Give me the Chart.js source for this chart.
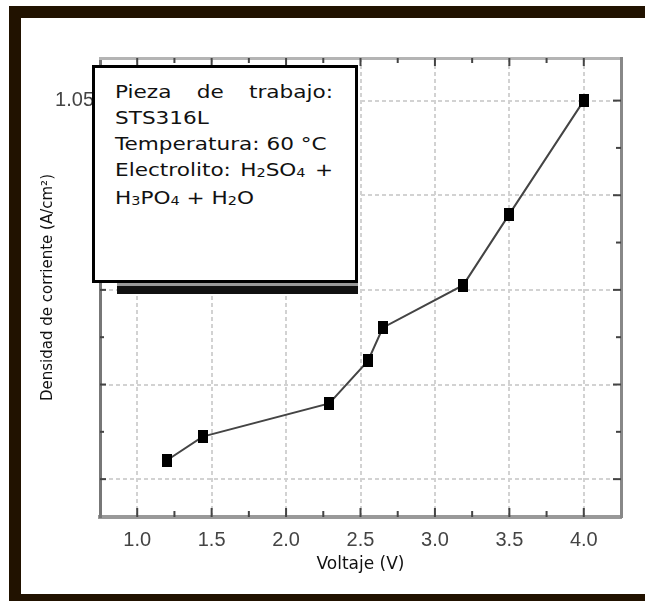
<!DOCTYPE html>
<html>
<head>
<meta charset="utf-8">
<script src="https://cdn.jsdelivr.net/npm/chart.js@4.4.1/dist/chart.umd.min.js"></script>
<style>
  html, body { margin: 0; padding: 0; background: #fff; }
  #wrap { position: relative; width: 645px; height: 601px; overflow: hidden; }
  #chart { position: absolute; left: 0; top: 0; }
  #frame {
    position: absolute; left: 9px; top: 6px; width: 636px; height: 595px;
    box-sizing: border-box; pointer-events: none;
    border-top: 12px solid #211200; border-left: 12px solid #211200; border-bottom: 7px solid #211200;
  }
  #noteShadow {
    position: absolute; left: 117px; top: 283px; width: 241px; height: 11px;
    background: linear-gradient(#999 0 3px, #111 3px);
  }
  #note {
    position: absolute; left: 92px; top: 65px; width: 266px; height: 218px;
    box-sizing: border-box; border: 3px solid #000; background: #fff;
    font-family: 'DejaVu Sans', Verdana, sans-serif; font-size: 18px; line-height: 26px; color: #111;
  }
  #noteText {
    position: absolute; left: 20px; top: 11px; width: 181.7px;
    transform: scaleX(1.2); transform-origin: 0 0; white-space: nowrap;
  }
  .j { text-align: justify; text-align-last: justify; white-space: normal; }
  .s { font-size: 12px; position: relative; top: 1px; }
</style>
</head>
<body>
<div id="wrap">
  <canvas id="chart" width="645" height="601"></canvas>
  <div id="noteShadow"></div>
  <div id="note">
    <div id="noteText">
      <div class="j">Pieza de trabajo:</div>
      <div>STS316L</div>
      <div>Temperatura: 60 °C</div>
      <div class="j">Electrolito: H<span class="s">2</span>SO<span class="s">4</span> +</div>
      <div>H<span class="s">3</span>PO<span class="s">4</span> + H<span class="s">2</span>O</div>
    </div>
  </div>
  <div id="frame"></div>
</div>
<script>
// Data
const voltage = [1.2, 1.44, 2.29, 2.55, 2.65, 3.19, 3.5, 4.0];
const density = [0.29, 0.34, 0.41, 0.50, 0.57, 0.66, 0.81, 1.05];

// Axis ticks
const xTicks = [1.0, 1.5, 2.0, 2.5, 3.0, 3.5, 4.0];
const xMinorTicks = [1.25, 1.75, 2.25, 2.75, 3.25, 3.75];
const yTicks = [0.25, 0.45, 0.65, 0.85, 1.05];
const yMinorTicks = [0.35, 0.55, 0.75, 0.95];
const yLabelled = [1.05];

const tickFont = "'Liberation Sans', Arial, sans-serif";

Chart.defaults.font.family = "'DejaVu Sans', sans-serif";

// Square markers, slightly taller than wide
const marker = document.createElement('canvas');
marker.width = 10;
marker.height = 13;
const mctx = marker.getContext('2d');
mctx.fillStyle = '#000';
mctx.fillRect(0, 0, 10, 13);

// Tick marks pointing into the plot on all four sides
const inwardTicks = {
    id: 'inwardTicks',
    beforeDatasetsDraw(chart) {
        const { ctx, chartArea: a, scales: { x, y } } = chart;
        ctx.save();
        ctx.strokeStyle = '#444';
        ctx.lineWidth = 2;
        const line = (x1, y1, x2, y2) => {
            ctx.beginPath();
            ctx.moveTo(x1, y1);
            ctx.lineTo(x2, y2);
            ctx.stroke();
        };
        xTicks.forEach(v => {
            const px = x.getPixelForValue(v);
            line(px, a.bottom, px, a.bottom - 9);
            line(px, a.top, px, a.top + 8);
        });
        xMinorTicks.forEach(v => {
            const px = x.getPixelForValue(v);
            line(px, a.bottom, px, a.bottom - 6);
            line(px, a.top, px, a.top + 5);
        });
        yTicks.forEach(v => {
            const py = y.getPixelForValue(v);
            line(a.left, py, a.left + 6, py);
            line(a.right, py, a.right - 8, py);
        });
        yMinorTicks.forEach(v => {
            const py = y.getPixelForValue(v);
            line(a.left, py, a.left + 4, py);
            line(a.right, py, a.right - 5, py);
        });
        ctx.restore();
    }
};

const gridStyle = { color: '#d2d2d2', lineWidth: 2, drawTicks: false };

new Chart(document.getElementById('chart'), {
    type: 'scatter',
    data: {
        datasets: [{
            data: voltage.map((v, i) => ({ x: v, y: density[i] })),
            showLine: true,
            borderColor: '#444',
            borderWidth: 2,
            pointStyle: marker,
            pointRadius: 6
        }]
    },
    options: {
        responsive: false,
        animation: false,
        devicePixelRatio: 1,
        layout: { padding: { top: 58, right: 24, left: 0, bottom: 0 } },
        plugins: {
            legend: { display: false },
            tooltip: { enabled: false }
        },
        scales: {
            x: {
                type: 'linear',
                position: 'bottom',
                min: 0.75,
                max: 4.25,
                afterBuildTicks: s => { s.ticks = xTicks.map(v => ({ value: v })); },
                afterFit: s => { s.height = 84; },
                grid: gridStyle,
                border: { color: '#999', width: 4, dash: [4, 3] },
                ticks: {
                    padding: 11,
                    color: '#444',
                    maxRotation: 0,
                    autoSkip: false,
                    font: { family: tickFont, size: 20 },
                    callback: v => v.toFixed(1)
                },
                title: {
                    display: true,
                    text: 'Voltaje (V)',
                    color: '#111',
                    font: { size: 17 },
                    padding: { top: 0, bottom: 26 }
                }
            },
            y: {
                type: 'linear',
                position: 'left',
                min: 0.17,
                max: 1.14,
                afterBuildTicks: s => { s.ticks = yTicks.map(v => ({ value: v })); },
                afterFit: s => { s.width = 100; },
                grid: gridStyle,
                border: { color: '#777', width: 3, dash: [4, 3] },
                ticks: {
                    padding: 6,
                    color: '#444',
                    font: { family: tickFont, size: 20 },
                    callback: v => yLabelled.includes(v) ? v.toFixed(2) : ''
                },
                title: {
                    display: true,
                    text: 'Densidad de corriente (A/cm²)',
                    color: '#111',
                    font: { size: 15 },
                    padding: { top: 39, bottom: 0 }
                }
            },
            x2: {
                type: 'linear',
                position: 'top',
                min: 0.75,
                max: 4.25,
                afterFit: s => { s.height = 0; },
                grid: { display: false, drawTicks: false },
                ticks: { display: false },
                border: { color: '#b4b4b4', width: 3 }
            },
            y2: {
                type: 'linear',
                position: 'right',
                min: 0.17,
                max: 1.14,
                afterFit: s => { s.width = 0; },
                grid: { display: false, drawTicks: false },
                ticks: { display: false },
                border: { color: '#888', width: 3 }
            }
        }
    },
    plugins: [inwardTicks]
});
</script>
</body>
</html>
